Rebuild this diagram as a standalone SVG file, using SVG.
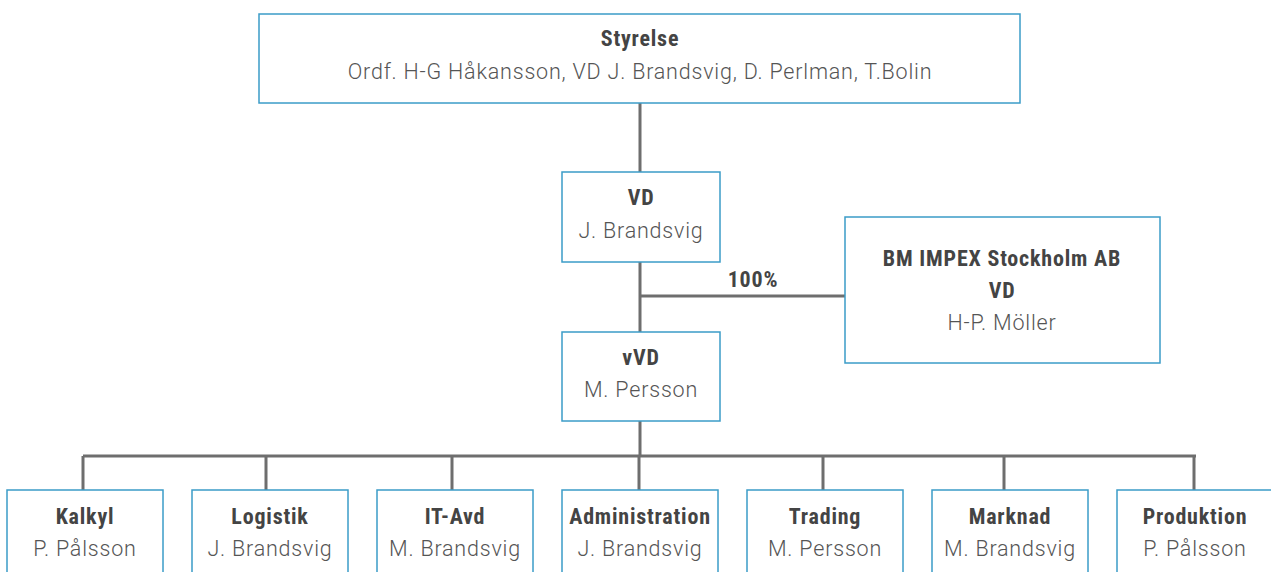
<svg xmlns="http://www.w3.org/2000/svg" width="1271" height="572" viewBox="0 0 1271 572">
<style>
.box{fill:#fff;stroke:#3b9cc8;stroke-width:1.5}
.ln{stroke:#6e6e6e;stroke-width:3;fill:none}
.t{font-family:"Liberation Sans Narrow","Roboto Condensed",Roboto,sans-serif;font-weight:bold;font-size:22px;letter-spacing:0.8px;fill:#444;text-anchor:middle}
.n{font-family:Roboto,"Liberation Sans",sans-serif;font-weight:300;font-size:21.5px;letter-spacing:0.8px;fill:#555;text-anchor:middle}
</style>
<rect width="1271" height="572" fill="#fff"/>
<g id="connectors">
<path class="ln" d="M640 103V172M640 262V333M640 296H845M640 421V456M83 456H1196M83 456V490M266 456V490M452 456V490M639 456V490M823 456V490M1004 456V490M1194 456V490"/>
<text class="t" x="753" y="287">100%</text>
</g>
<g id="styrelse"><rect class="box" x="259" y="14" width="761" height="89"/><text class="t" x="640" y="46">Styrelse</text><text class="n" x="640" y="79">Ordf. H-G Håkansson, VD J. Brandsvig, D. Perlman, T.Bolin</text></g>
<g id="vd"><rect class="box" x="562" y="172" width="158" height="90"/><text class="t" x="641" y="205">VD</text><text class="n" x="641" y="238">J. Brandsvig</text></g>
<g id="bm"><rect class="box" x="845" y="217" width="315" height="146"/><text class="t" x="1002" y="266">BM IMPEX Stockholm AB</text><text class="t" x="1002" y="298">VD</text><text class="n" x="1002" y="330">H-P. Möller</text></g>
<g id="vvd"><rect class="box" x="562" y="332" width="158" height="89"/><text class="t" x="641" y="365">vVD</text><text class="n" x="641" y="397">M. Persson</text></g>
<g id="kalkyl"><rect class="box" x="7" y="490" width="156" height="100"/><text class="t" x="85" y="524">Kalkyl</text><text class="n" x="85" y="556">P. Pålsson</text></g>
<g id="logistik"><rect class="box" x="192" y="490" width="156" height="100"/><text class="t" x="270" y="524">Logistik</text><text class="n" x="270" y="556">J. Brandsvig</text></g>
<g id="itavd"><rect class="box" x="377" y="490" width="156" height="100"/><text class="t" x="455" y="524">IT-Avd</text><text class="n" x="455" y="556">M. Brandsvig</text></g>
<g id="admin"><rect class="box" x="562" y="490" width="156" height="100"/><text class="t" x="640" y="524">Administration</text><text class="n" x="640" y="556">J. Brandsvig</text></g>
<g id="trading"><rect class="box" x="747" y="490" width="156" height="100"/><text class="t" x="825" y="524">Trading</text><text class="n" x="825" y="556">M. Persson</text></g>
<g id="marknad"><rect class="box" x="932" y="490" width="156" height="100"/><text class="t" x="1010" y="524">Marknad</text><text class="n" x="1010" y="556">M. Brandsvig</text></g>
<g id="produktion"><rect class="box" x="1117" y="490" width="156" height="100"/><text class="t" x="1195" y="524">Produktion</text><text class="n" x="1195" y="556">P. Pålsson</text></g>
</svg>
